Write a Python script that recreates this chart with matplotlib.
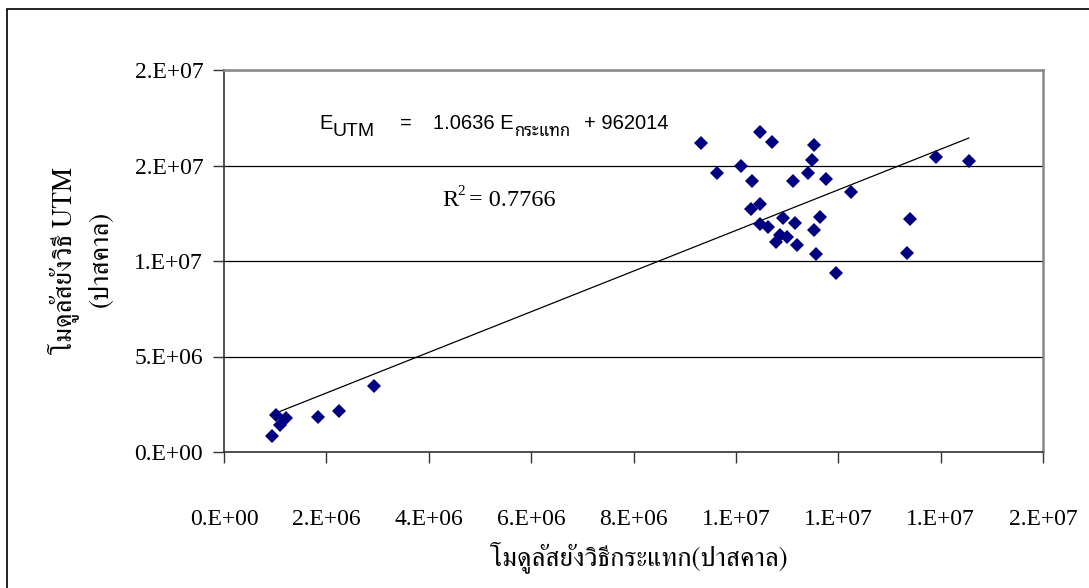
import matplotlib
matplotlib.use("Agg")
import matplotlib.pyplot as plt
from matplotlib.patches import Rectangle
import numpy as np

# modulus by impact method (Pa) vs modulus by UTM (Pa)
impactModulus = [0.94e6, 1.02e6, 1.09e6, 1.21e6, 1.84e6, 2.25e6, 2.93e6,
                 9.31e6, 10.47e6, 10.70e6, 11.53e6, 11.49e6, 10.10e6, 9.64e6,
                 10.32e6, 11.11e6, 11.41e6, 11.76e6, 12.25e6, 13.91e6, 14.55e6,
                 10.47e6, 10.29e6, 11.65e6, 13.40e6, 10.92e6, 11.15e6, 10.47e6,
                 10.63e6, 11.53e6, 10.87e6, 11.00e6, 10.78e6, 11.20e6, 11.57e6,
                 13.34e6, 11.95e6]
utmModulus = [0.84e6, 1.94e6, 1.41e6, 1.78e6, 1.83e6, 2.15e6, 3.46e6,
              16.16e6, 16.77e6, 16.25e6, 16.07e6, 15.27e6, 14.99e6, 14.59e6,
              14.19e6, 14.19e6, 14.59e6, 14.28e6, 13.60e6, 15.46e6, 15.25e6,
              13.00e6, 12.71e6, 12.30e6, 12.21e6, 12.24e6, 12.01e6, 11.92e6,
              11.80e6, 11.62e6, 11.35e6, 11.24e6, 11.01e6, 10.84e6, 10.35e6,
              10.43e6, 9.36e6]

SLOPE = 1.0636
INTERCEPT = 962014
R2 = 0.7766

xTicks = [0, 2e6, 4e6, 6e6, 8e6, 10e6, 12e6, 14e6, 16e6]
xTickLabels = ["0.E+00", "2.E+06", "4.E+06", "6.E+06", "8.E+06",
               "1.E+07", "1.E+07", "1.E+07", "2.E+07"]
yTicks = [0, 5e6, 10e6, 15e6, 20e6]
yTickLabels = ["0.E+00", "5.E+06", "1.E+07", "2.E+07", "2.E+07"]

xLabel = "โมดูลัสยังวิธีกระแทก(ปาสคาล)"
yLabel1 = "โมดูลัสยังวิธี UTM"
yLabel2 = "(ปาสคาล)"

W, H = 1089, 588
SERIF = ["Liberation Serif", "FreeSerif"]
THAI = ["FreeSerif", "Liberation Serif"]
SANS = ["Liberation Sans", "Noto Sans Thai Looped", "DejaVu Sans"]


def px(x, y):
    return x / W, 1 - y / H


fig = plt.figure(figsize=(W / 100, H / 100), dpi=100)
fig.patches.append(Rectangle(px(7, 700), 2, (700 - 9) / H, transform=fig.transFigure,
                             fill=False, edgecolor="black", linewidth=1.2))

ax = fig.add_axes([224 / W, 1 - 452 / H, 819 / W, 382 / H])
ax.set_xlim(0, 16e6)
ax.set_ylim(0, 20e6)

ax.grid(axis="y", color="black", linewidth=0.9)
ax.set_axisbelow(True)

xs = np.array(impactModulus)
xLine = np.array([xs.min(), xs.max()])
ax.plot(xLine, SLOPE * xLine + INTERCEPT, color="black", linewidth=0.9, zorder=2)
ax.plot(impactModulus, utmModulus, linestyle="none", marker="D", markersize=7,
        color="#000080", markeredgewidth=0, zorder=3)

ax.set_xticks(xTicks)
ax.set_xticklabels(xTickLabels, family=SERIF, fontsize=17)
ax.set_yticks(yTicks)
ax.set_yticklabels(yTickLabels, family=SERIF, fontsize=17)
ax.tick_params(axis="x", direction="out", length=8, width=1, pad=33, color="#333333")
ax.tick_params(axis="y", direction="out", length=8, width=1, pad=7, color="#333333")

for side in ["top", "right"]:
    ax.spines[side].set_color("#888888")
    ax.spines[side].set_linewidth(1.8)
for side in ["left", "bottom"]:
    ax.spines[side].set_color("#333333")
    ax.spines[side].set_linewidth(1.2)

# axis titles
fig.text(*px(639, 557), xLabel, family=THAI, fontsize=19.5, ha="center", va="center")
fig.text(*px(63, 261), yLabel1, family=THAI, fontsize=19.5, ha="center", va="center",
         rotation=90)
fig.text(*px(101, 259), yLabel2, family=THAI, fontsize=19.5, ha="center", va="center",
         rotation=90)

# trendline equation
eq = [(319, 129, "E", 14.5), (332, 136, "UTM", 14), (400, 129, "=", 14.5),
      (433, 129, "1.0636 E", 14.5), (514, 136, "กระแทก", 12), (584, 129, "+ 962014", 14.5)]
for x, y, s, fs in eq:
    fig.text(*px(x, y), s, family=SANS, fontsize=fs, ha="left", va="baseline")

fig.text(*px(442, 206), "R", family=SERIF, fontsize=17.5, ha="left", va="baseline")
fig.text(*px(457, 195), "2", family=SERIF, fontsize=11, ha="left", va="baseline")
fig.text(*px(469, 206), "= %.4f" % R2, family=SERIF, fontsize=17.5, ha="left", va="baseline")

fig.savefig("out.png", dpi=100)
